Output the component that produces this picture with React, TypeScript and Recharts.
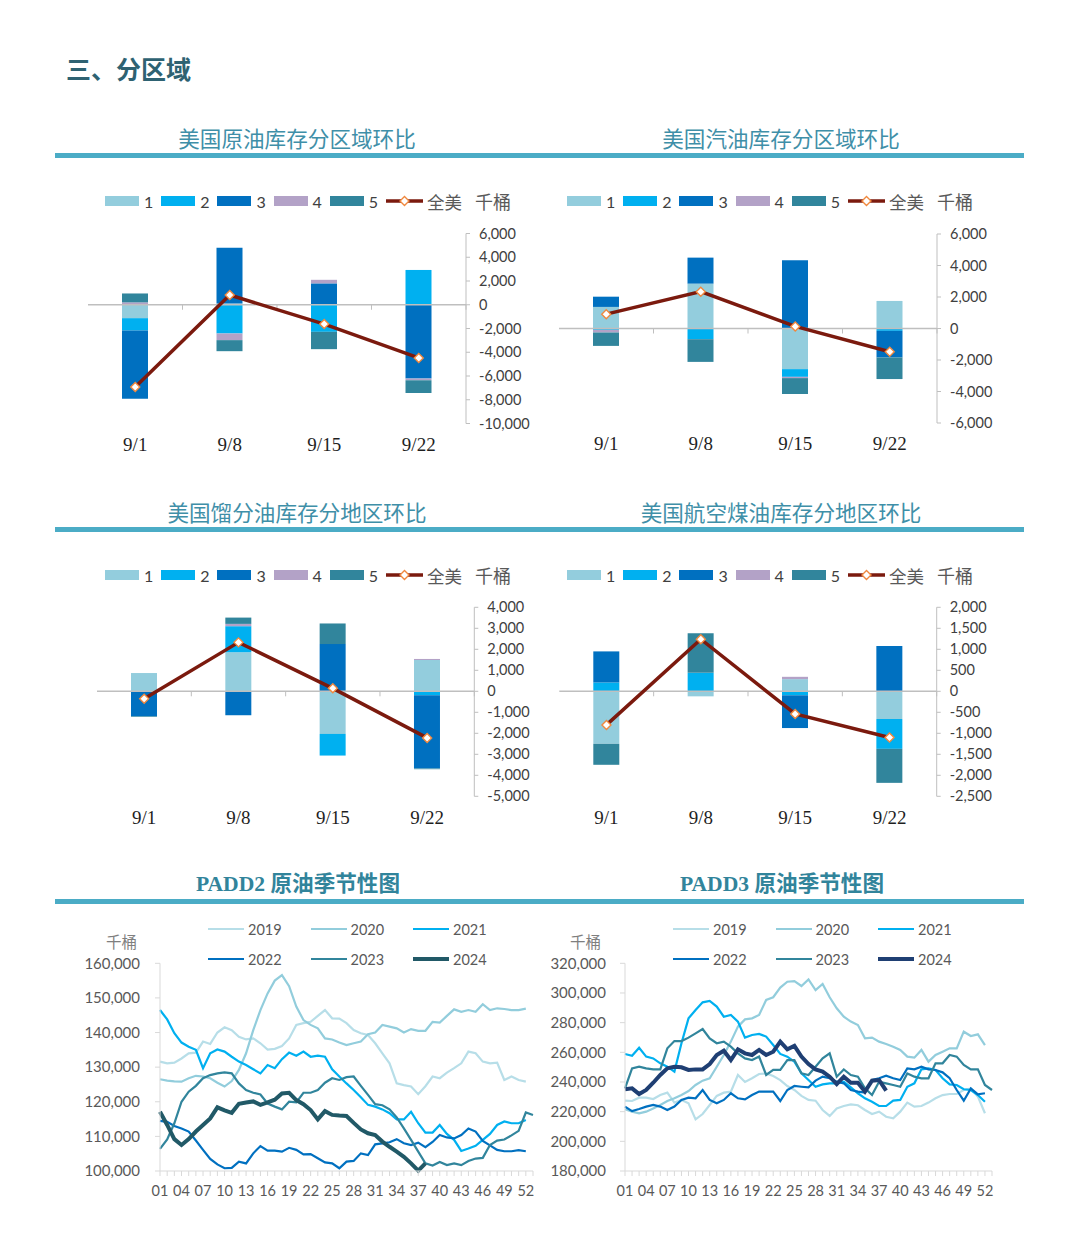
import React from "react";
import { ComposedChart, LineChart, Bar, Line, XAxis, YAxis, ReferenceLine } from "recharts";

// ---------- 分区域周度环比（千桶） ----------
const dates = ["9/1", "9/8", "9/15", "9/22"];
const regionLabels = ["1", "2", "3", "4", "5"];
const regionColors = ["#93CDDD", "#00B0F0", "#0070C0", "#B3A2C7", "#31859C"];

// 美国原油库存分区域环比
const crudeR1 = [-1130, 100, 0, 0];
const crudeR2 = [-1040, -2420, -2280, 2930];
const crudeR3 = [-5750, 4700, 1800, -6220];
const crudeR4 = [200, -560, 300, -140];
const crudeR5 = [750, -930, -1460, -1070];
const crudeUS = [-6930, 820, -1630, -4480];
const crudeTicks = [6000, 4000, 2000, 0, -2000, -4000, -6000, -8000, -10000];

// 美国汽油库存分区域环比
const gasR1 = [1370, 2850, -2580, 1750];
const gasR2 = [-85, -680, -490, -150];
const gasR3 = [650, 1650, 4330, -1690];
const gasR4 = [-170, 0, -80, 0];
const gasR5 = [-850, -1440, -1010, -1370];
const gasUS = [910, 2340, 130, -1480];
const gasTicks = [6000, 4000, 2000, 0, -2000, -4000, -6000];

// 美国馏分油库存分地区环比
const distR1 = [870, 1860, -2030, 1490];
const distR2 = [0, 1240, -1030, -190];
const distR3 = [-1190, -1140, 2250, -3490];
const distR4 = [0, 110, 0, 50];
const distR5 = [-30, 300, 980, -30];
const distUS = [-350, 2330, 140, -2220];
const distTicks = [4000, 3000, 2000, 1000, 0, -1000, -2000, -3000, -4000, -5000];

// 美国航空煤油库存分地区环比
const jetR1 = [-1250, -120, 290, -660];
const jetR2 = [210, 440, -95, -710];
const jetR3 = [740, 0, -780, 1080];
const jetR4 = [0, 0, 55, 0];
const jetR5 = [-500, 940, 0, -810];
const jetUS = [-800, 1240, -540, -1100];
const jetTicks = [2000, 1500, 1000, 500, 0, -500, -1000, -1500, -2000, -2500];

// ---------- 季节性（千桶） ----------
const weeks = [
  "01", "02", "03", "04", "05", "06", "07", "08", "09", "10", "11", "12", "13", "14", "15", "16", "17", "18",
  "19", "20", "21", "22", "23", "24", "25", "26", "27", "28", "29", "30", "31", "32", "33", "34", "35", "36",
  "37", "38", "39", "40", "41", "42", "43", "44", "45", "46", "47", "48", "49", "50", "51", "52", "53",
];
const years = ["2019", "2020", "2021", "2022", "2023", "2024"];

const p2y2019 = [131600, 131100, 131300, 132500, 134000, 134200, 137400, 136700, 140000, 141500, 140700, 138800, 138000, 138300, 136900, 135100, 135300, 136100, 138300, 142200, 142700, 143100, 144800, 146500, 144100, 144000, 142700, 140700, 139800, 139300, 136900, 134000, 131100, 125300, 124800, 124400, 122200, 124500, 127300, 126800, 128400, 129700, 131100, 134500, 134000, 131600, 131100, 131300, 126300, 127300, 126300, 125800];
const p2y2020 = [126500, 126100, 125900, 125800, 126800, 127500, 127300, 126800, 125500, 124400, 126000, 129200, 134000, 140700, 146500, 151300, 155000, 156600, 153400, 147500, 143600, 142200, 141200, 138300, 138000, 137100, 136400, 136900, 137400, 139500, 140000, 142200, 141700, 141200, 140000, 141000, 140500, 140500, 143100, 142900, 144800, 146700, 146000, 146500, 146000, 148200, 146500, 147000, 146800, 146500, 146500, 146900];
const p2y2021 = [146500, 143800, 139800, 137100, 135900, 135000, 129700, 134000, 135100, 134500, 133000, 131600, 130600, 129400, 128200, 130600, 129700, 132300, 134200, 133300, 134500, 133000, 133300, 133000, 129400, 127300, 125300, 123400, 121300, 119100, 118600, 117800, 116700, 114900, 114900, 117100, 113800, 111100, 111100, 113300, 110700, 109000, 105800, 106500, 107300, 109000, 110700, 113300, 114300, 113800, 113800, 114700];
const p2y2022 = [114500, 114200, 113000, 112300, 111400, 108800, 106100, 103500, 101900, 100800, 100900, 102700, 102200, 105100, 107200, 105900, 105900, 105600, 106700, 106100, 104800, 104900, 103700, 102500, 102200, 100800, 102700, 102900, 105100, 104600, 107700, 108000, 108300, 109200, 108000, 107500, 108200, 106900, 108400, 110400, 109700, 109400, 110400, 112300, 111400, 108700, 107400, 106100, 105700, 105700, 106000, 105700];
const p2y2023 = [106400, 109100, 113800, 120000, 122900, 124600, 126800, 127700, 128200, 128500, 128200, 125300, 123400, 122600, 122100, 119500, 118600, 117800, 120000, 119800, 122600, 122600, 123400, 125500, 126800, 126300, 127100, 127300, 124600, 122000, 119300, 119000, 117800, 115500, 112300, 109000, 105600, 102200, 101600, 102600, 101700, 102200, 101700, 102900, 103600, 103800, 107500, 108800, 109100, 110300, 111600, 116900, 116200];
const p2y2024 = [117100, 113300, 109200, 107500, 109200, 111400, 113300, 115200, 118400, 117500, 116800, 119400, 119800, 120100, 119100, 119800, 120600, 122400, 122600, 120500, 119300, 117600, 114900, 117300, 116200, 116000, 115900, 113900, 112000, 110900, 110400, 108500, 107000, 105600, 104100, 102200, 100100, 102200];
const p2Ticks = [100000, 110000, 120000, 130000, 140000, 150000, 160000];

const p3y2019 = [227400, 227200, 229400, 229400, 228500, 231200, 232800, 226100, 227900, 225600, 214800, 218400, 224500, 230600, 232800, 233500, 244700, 240000, 242500, 245400, 245800, 244000, 241300, 237300, 234600, 230600, 227900, 227400, 221100, 217100, 222200, 223800, 224900, 224300, 221100, 218400, 220000, 216600, 215500, 220000, 226100, 223400, 223800, 226100, 229000, 231200, 231900, 231900, 234600, 235700, 230100, 218900];
const p3y2020 = [221600, 220000, 218900, 220000, 222200, 224500, 227200, 229000, 231200, 233900, 238000, 240900, 242500, 250300, 258200, 267200, 277300, 282200, 282900, 285200, 295300, 297100, 303600, 307600, 308000, 304700, 309100, 302000, 306100, 297100, 289700, 284000, 280700, 278400, 269400, 269900, 267200, 265600, 263800, 261600, 257100, 256400, 261600, 253700, 258200, 260400, 262700, 262700, 273900, 271000, 272100, 264900];
const p3y2021 = [258900, 257700, 263100, 257100, 255900, 252600, 250300, 247000, 266100, 282900, 288500, 293700, 294600, 290800, 284000, 285200, 280700, 269900, 271700, 272400, 270600, 264900, 258900, 257100, 253700, 245800, 241300, 236800, 238400, 239100, 239100, 240200, 236400, 232400, 229000, 226700, 223800, 223800, 227400, 227900, 236800, 239100, 248500, 249200, 248100, 242500, 238400, 238000, 235100, 234600, 231200, 226700];
const p3y2022 = [223400, 220400, 221800, 223400, 224500, 223400, 221100, 223400, 227900, 229400, 229000, 234600, 227900, 225600, 227900, 232400, 229000, 228300, 231200, 233500, 233500, 233500, 227200, 234600, 237300, 236800, 236400, 240900, 243600, 242500, 240200, 239100, 234600, 233500, 232800, 241300, 242500, 244300, 242500, 241300, 249200, 248500, 250300, 248500, 248100, 246500, 242500, 234600, 227400, 235700, 231700, 232400];
const p3y2023 = [235700, 249200, 250300, 249200, 248500, 248500, 262700, 267600, 267600, 269900, 272800, 275700, 269400, 266100, 267200, 263800, 259300, 255900, 254800, 257100, 244700, 248100, 248100, 254800, 254800, 245800, 244700, 250300, 255900, 259300, 243600, 248500, 244700, 243600, 235700, 231200, 240200, 239100, 238000, 236800, 245800, 243600, 242500, 242500, 252600, 252600, 258200, 257100, 251500, 248500, 248500, 238000, 234600];
const p3y2024 = [235100, 235700, 231900, 234600, 239500, 244700, 249200, 250300, 249900, 248100, 248500, 248500, 252100, 258200, 261100, 254800, 262000, 259300, 258200, 261600, 258200, 260400, 267200, 262000, 264300, 257100, 252100, 248500, 247000, 243600, 238600, 243600, 239500, 239500, 233500, 240900, 241300, 234200];
const p3Ticks = [180000, 200000, 220000, 240000, 260000, 280000, 300000, 320000];

const p2Colors = ["#B7DEE8", "#92CDDC", "#00B0F0", "#0070C0", "#31859C", "#215967"];
const p3Colors = ["#B7DEE8", "#92CDDC", "#00B0F0", "#0070C0", "#31859C", "#1F3F73"];

// ---------- helpers ----------
const CJK = "'Noto Sans CJK SC', 'Noto Sans', sans-serif";
const SANS = "Lato, 'Liberation Sans', sans-serif";
const SERIF = "'Liberation Serif', 'DejaVu Serif', serif";
const fmt = (v: number) => v.toLocaleString("en-US");

function buildBars(r1: number[], r2: number[], r3: number[], r4: number[], r5: number[], us: number[]) {
  return dates.map((d, i) => ({ date: d, r1: r1[i], r2: r2[i], r3: r3[i], r4: r4[i], r5: r5[i], us: us[i] }));
}

function buildWeeks(series: number[][]) {
  return weeks.map((w, i) => {
    const row: Record<string, string | number | null> = { wk: w };
    years.forEach((y, k) => {
      row[y] = i < series[k].length ? series[k][i] : null;
    });
    return row;
  });
}

const Diamond = (p: any) => {
  const { cx, cy } = p;
  if (cx == null || cy == null) return <g />;
  const r = 4.5;
  return (
    <path
      d={`M${cx},${cy - r}L${cx + r},${cy}L${cx},${cy + r}L${cx - r},${cy}Z`}
      fill="#ffffff"
      stroke="#F0883E"
      strokeWidth={1.4}
    />
  );
};

const ZeroLine = (p: any) => {
  const { x1, x2, y1 } = p;
  if (x1 == null) return <g />;
  const step = (x2 - x1) / dates.length;
  return (
    <g>
      <line x1={x1} x2={x2} y1={y1} y2={y1} stroke="#BFBFBF" strokeWidth={1.5} />
      {dates.map((d, i) => (
        <line key={d} x1={x1 + i * step} x2={x1 + i * step} y1={y1} y2={y1 + 5} stroke="#BFBFBF" />
      ))}
    </g>
  );
};

const WeekTick = (p: any) => {
  const { x, y, payload, index } = p;
  if (index % 3 !== 0) return <g />;
  return (
    <text x={x} y={y} dy="0.71em" textAnchor="middle" fontSize={14.5} fontFamily={SANS} fill="#595959">
      {payload.value}
    </text>
  );
};

function Title({ text, cx, cy, bold }: { text: string; cx: number; cy: number; bold?: boolean }) {
  return (
    <div
      style={{
        position: "absolute",
        left: cx - 250,
        top: cy - 13,
        width: 500,
        height: 26,
        lineHeight: "26px",
        textAlign: "center",
        fontSize: 21.6,
        fontWeight: bold ? 700 : 400,
        fontFamily: bold ? `'Liberation Serif', ${CJK}` : CJK,
        color: bold ? "#31849B" : "#3F8FA8",
        whiteSpace: "nowrap",
      }}
    >
      {text}
    </div>
  );
}

function Rule({ y }: { y: number }) {
  return <div style={{ position: "absolute", left: 55, top: y - 2.5, width: 969, height: 5, background: "#4BACC6" }} />;
}

function BarLegend({ left, top }: { left: number; top: number }) {
  return (
    <div style={{ position: "absolute", left, top: top - 11, height: 22, display: "flex", alignItems: "center" }}>
      {regionLabels.map((n, i) => (
        <div key={n} style={{ width: 56.2, display: "flex", alignItems: "center" }}>
          <span style={{ display: "inline-block", width: 34, height: 10, background: regionColors[i] }} />
          <span style={{ marginLeft: 5, fontSize: 16, fontFamily: SANS, color: "#404040" }}>{n}</span>
        </div>
      ))}
      <svg width={37} height={12}>
        <line x1={0} x2={37} y1={6} y2={6} stroke="#7B1A0E" strokeWidth={3.5} />
        <path d="M18.5,1.5L23,6L18.5,10.5L14,6Z" fill="#fff" stroke="#F0883E" strokeWidth={1.4} />
      </svg>
      <span style={{ marginLeft: 4, fontSize: 17.5, fontFamily: CJK, color: "#595959" }}>全美</span>
      <span style={{ marginLeft: 13, fontSize: 18, fontFamily: CJK, color: "#595959" }}>千桶</span>
    </div>
  );
}

function LineLegend({ left, top, colors }: { left: number; top: number; colors: string[] }) {
  return (
    <div style={{ position: "absolute", left, top: top - 11 }}>
      {[0, 1].map((row) => (
        <div key={row} style={{ display: "flex", alignItems: "center", height: 22, marginBottom: row === 0 ? 8 : 0 }}>
          {years.slice(row * 3, row * 3 + 3).map((y, k) => {
            const i = row * 3 + k;
            return (
              <div key={y} style={{ width: 102.5, display: "flex", alignItems: "center" }}>
                <span style={{ display: "inline-block", width: 36, height: i === 5 ? 4 : 2.5, background: colors[i] }} />
                <span style={{ marginLeft: 4, fontSize: 14.5, fontFamily: SANS, color: "#595959" }}>{y}</span>
              </div>
            );
          })}
        </div>
      ))}
    </div>
  );
}

type BarPanelProps = {
  data: ReturnType<typeof buildBars>;
  ticks: number[];
  left: number;
  top: number;
  width: number;
  margin: { top: number; right: number; left: number; bottom: number };
  yWidth: number;
};

function BarPanel({ data, ticks, left, top, width, margin, yWidth }: BarPanelProps) {
  const keys = ["r1", "r2", "r3", "r4", "r5"];
  return (
    <div style={{ position: "absolute", left, top }}>
      <ComposedChart width={width} height={245} data={data} margin={margin} stackOffset="sign">
        <XAxis
          dataKey="date"
          axisLine={false}
          tickLine={false}
          height={30}
          tickSize={6}
          tickMargin={8}
          tick={{ fontSize: 19, fontFamily: SERIF, fill: "#1F1F1F" }}
        />
        <YAxis
          orientation="right"
          width={yWidth}
          domain={[ticks[ticks.length - 1], ticks[0]]}
          ticks={ticks}
          interval={0}
          tickFormatter={fmt}
          axisLine={{ stroke: "#BFBFBF" }}
          tickLine={{ stroke: "#BFBFBF" }}
          tickSize={4}
          tickMargin={9}
          tick={{ fontSize: 14.5, fontFamily: SANS, fill: "#404040" }}
        />
        <ReferenceLine y={0} shape={ZeroLine} />
        {keys.map((k, i) => (
          <Bar key={k} dataKey={k} stackId="a" fill={regionColors[i]} barSize={26} isAnimationActive={false} />
        ))}
        <Line dataKey="us" stroke="#7B1A0E" strokeWidth={3.5} dot={<Diamond />} isAnimationActive={false} />
      </ComposedChart>
    </div>
  );
}

type SeasonProps = {
  data: ReturnType<typeof buildWeeks>;
  colors: string[];
  ticks: number[];
  left: number;
  width: number;
  right: number;
  yWidth: number;
  yMargin: number;
};

function SeasonPanel({ data, colors, ticks, left, width, right, yWidth, yMargin }: SeasonProps) {
  return (
    <div style={{ position: "absolute", left, top: 915 }}>
      <LineChart width={width} height={290} data={data} margin={{ top: 48.3, right, left: 0, bottom: 4 }}>
        <XAxis
          dataKey="wk"
          interval={0}
          height={30}
          tick={WeekTick}
          tickSize={5}
          tickMargin={10}
          axisLine={{ stroke: "#D9D9D9" }}
          tickLine={{ stroke: "#D9D9D9" }}
        />
        <YAxis
          width={yWidth}
          domain={[ticks[0], ticks[ticks.length - 1]]}
          ticks={ticks}
          interval={0}
          tickFormatter={fmt}
          axisLine={{ stroke: "#D9D9D9" }}
          tickLine={{ stroke: "#D9D9D9" }}
          tickSize={5}
          tickMargin={yMargin}
          tick={{ fontSize: 15, fontFamily: SANS, fill: "#595959" }}
        />
        {years.map((y, i) => (
          <Line
            key={y}
            dataKey={y}
            stroke={colors[i]}
            strokeWidth={i === 5 ? 4 : 2.2}
            dot={false}
            isAnimationActive={false}
          />
        ))}
      </LineChart>
    </div>
  );
}

export default function App() {
  const crude = buildBars(crudeR1, crudeR2, crudeR3, crudeR4, crudeR5, crudeUS);
  const gas = buildBars(gasR1, gasR2, gasR3, gasR4, gasR5, gasUS);
  const dist = buildBars(distR1, distR2, distR3, distR4, distR5, distUS);
  const jet = buildBars(jetR1, jetR2, jetR3, jetR4, jetR5, jetUS);
  const padd2 = buildWeeks([p2y2019, p2y2020, p2y2021, p2y2022, p2y2023, p2y2024]);
  const padd3 = buildWeeks([p3y2019, p3y2020, p3y2021, p3y2022, p3y2023, p3y2024]);

  return (
    <div style={{ position: "absolute", left: 0, top: 0, width: 1080, height: 1247, background: "#ffffff", overflow: "hidden" }}>
      <div
        style={{
          position: "absolute",
          left: 66,
          top: 51,
          fontSize: 25,
          lineHeight: "34px",
          fontWeight: 700,
          fontFamily: CJK,
          color: "#2E6272",
        }}
      >
        三、分区域
      </div>

      <Title text="美国原油库存分区域环比" cx={297} cy={138} />
      <Title text="美国汽油库存分区域环比" cx={781} cy={138} />
      <Rule y={155} />
      <BarLegend left={105} top={201} />
      <BarLegend left={567} top={201} />
      <BarPanel data={crude} ticks={crudeTicks} left={55} top={215} width={485} margin={{ top: 18.5, right: 0, left: 33, bottom: 6.5 }} yWidth={74} />
      <BarPanel data={gas} ticks={gasTicks} left={540} top={215} width={480} margin={{ top: 19, right: 9, left: 19, bottom: 7 }} yWidth={74} />

      <Title text="美国馏分油库存分地区环比" cx={297} cy={512} />
      <Title text="美国航空煤油库存分地区环比" cx={781} cy={512} />
      <Rule y={529} />
      <BarLegend left={105} top={575} />
      <BarLegend left={567} top={575} />
      <BarPanel data={dist} ticks={distTicks} left={55} top={590} width={485} margin={{ top: 17.3, right: 5.7, left: 42, bottom: 8.7 }} yWidth={60} />
      <BarPanel data={jet} ticks={jetTicks} left={540} top={590} width={480} margin={{ top: 17.3, right: 9.3, left: 19.3, bottom: 8.7 }} yWidth={74} />

      <Title text="PADD2 原油季节性图" cx={298} cy={884} bold />
      <Title text="PADD3 原油季节性图" cx={782} cy={884} bold />
      <Rule y={901} />
      <LineLegend left={208} top={929} colors={p2Colors} />
      <LineLegend left={673} top={929} colors={p3Colors} />
      <div style={{ position: "absolute", left: 106, top: 930, fontSize: 15.5, fontFamily: CJK, color: "#7F7F7F" }}>千桶</div>
      <div style={{ position: "absolute", left: 570, top: 930, fontSize: 15.5, fontFamily: CJK, color: "#7F7F7F" }}>千桶</div>
      <SeasonPanel data={padd2} colors={p2Colors} ticks={p2Ticks} left={60} width={480} right={7} yWidth={100} yMargin={15} />
      <SeasonPanel data={padd3} colors={p3Colors} ticks={p3Ticks} left={545} width={460} right={13} yWidth={80} yMargin={14} />
    </div>
  );
}
